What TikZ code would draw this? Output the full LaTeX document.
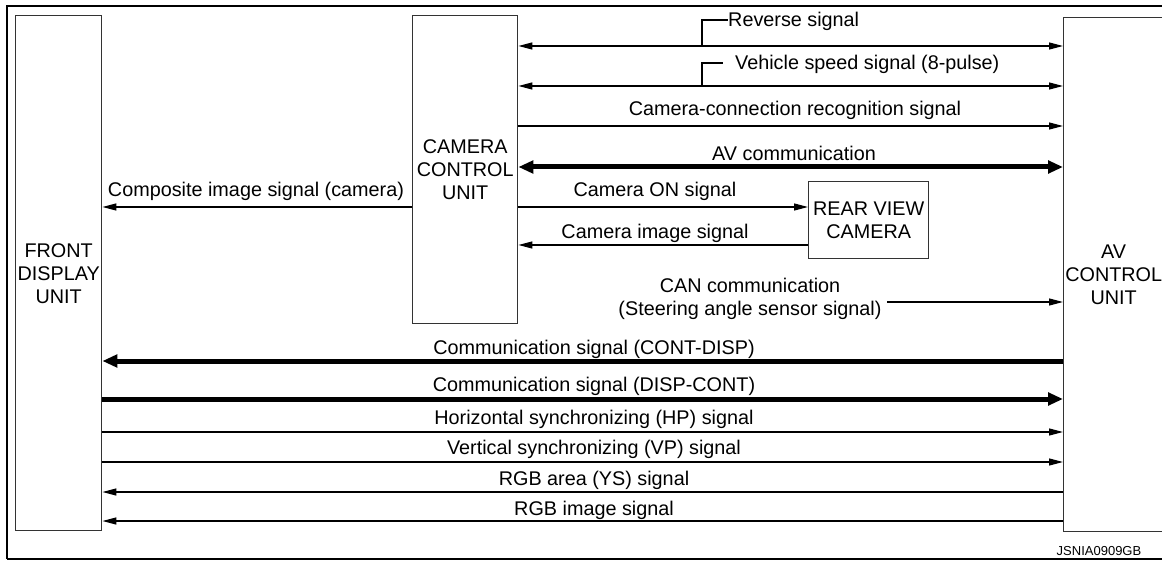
\documentclass[tikz,border=0pt]{standalone}
\usepackage{fontspec}
\setmainfont{Liberation Sans}
\usetikzlibrary{arrows.meta}
\newcommand\sigfont{\fontsize{19.8}{23}\selectfont}
\newcommand\tinyfont{\fontsize{13}{15}\selectfont}
\begin{document}
\begin{tikzpicture}[x=1pt,y=-1pt,
  unitbox/.style={draw=black!80, line width=1.4pt, inner sep=0pt, align=center, font=\sigfont, anchor=north west},
  lbl/.style={inner sep=0pt, font=\sigfont},
  thinl/.style={line width=1.3pt},
  sig/.style={line width=1.3pt, -{Triangle[length=14pt,width=7pt]}},
  sigboth/.style={line width=1.3pt, {Triangle[length=14pt,width=7pt]}-{Triangle[length=14pt,width=7pt]}},
  fat/.style={line width=5pt, -{Triangle[length=15pt,width=12.5pt]}},
  fatboth/.style={line width=5pt, {Triangle[length=15pt,width=12.5pt]}-{Triangle[length=15pt,width=12.5pt]}}
]
\useasboundingbox (0,0) rectangle (1162,561);
\begin{scope}
\clip (0,0) rectangle (1162,561);
% outer frame
\draw[line width=2.4pt] (1170,6) -- (7,6) -- (7,559);
\draw[line width=1.6pt] (7,559) -- (1170,559);

% units
\node[unitbox, minimum width=86pt, minimum height=515pt] (fdu) at (15,15) {FRONT\\DISPLAY\\UNIT};
\node[unitbox, minimum width=105pt, minimum height=308pt] (ccu) at (412,15) {CAMERA\\CONTROL\\UNIT};
\node[unitbox, minimum width=100pt, minimum height=514pt] (av) at (1063,17) {AV\\CONTROL\\UNIT};
\node[unitbox, minimum width=120pt, minimum height=77pt] (rvc) at (808,181) {REAR VIEW\\CAMERA};

% row coordinates
\coordinate (yRev) at (0,46);
\coordinate (ySpd) at (0,86);
\coordinate (yCcr) at (0,126);
\coordinate (yAvc) at (0,167);
\coordinate (yCmp) at (0,207);
\coordinate (yCim) at (0,245);
\coordinate (yCan) at (0,302);
\coordinate (yCd) at (0,361);
\coordinate (yDc) at (0,399);
\coordinate (yHp) at (0,432);
\coordinate (yVp) at (0,462);
\coordinate (yYs) at (0,492);
\coordinate (yRgb) at (0,521);

% reverse signal
\draw[sigboth] (ccu.east |- yRev) -- (av.west |- yRev);
\node[lbl, anchor=base west] (revl) at (728,27) {Reverse signal};
\coordinate (revj) at (702,46);
\draw[thinl] (revj) |- ([yshift=7pt]revl.base west);

% vehicle speed signal
\draw[sigboth] (ccu.east |- ySpd) -- (av.west |- ySpd);
\node[lbl, anchor=base west] (spdl) at (735,70) {Vehicle speed signal (8-pulse)};
\coordinate (spdj) at (702,86);
\draw[thinl] (spdj) |- ([xshift=-12pt,yshift=7pt]spdl.base west);

% camera connection recognition
\draw[sig] (ccu.east |- yCcr) -- (av.west |- yCcr);
\node[lbl, anchor=base] (ccrl) at (795,116) {Camera-connection recognition signal};

% AV communication
\draw[fatboth] (ccu.east |- yAvc) -- (av.west |- yAvc);
\node[lbl, anchor=base] (avcl) at (794,161) {AV communication};

% composite image
\draw[sig] (ccu.west |- yCmp) -- (fdu.east |- yCmp);
\node[lbl, anchor=base] (cmpl) at (256,197) {Composite image signal (camera)};

% camera ON
\draw[sig] (ccu.east |- yCmp) -- (rvc.west |- yCmp);
\node[lbl, anchor=base] (conl) at (655,197) {Camera ON signal};

% camera image
\draw[sig] (rvc.west |- yCim) -- (ccu.east |- yCim);
\node[lbl, anchor=base] (ciml) at (655,239) {Camera image signal};

% CAN communication
\node[lbl, align=center] (canl) at (750,299) {CAN communication\\(Steering angle sensor signal)};
\coordinate (canS) at (887,302);
\draw[sig] (canS) -- (av.west |- yCan);

% communication signals
\draw[fat] (av.west |- yCd) -- (fdu.east |- yCd);
\node[lbl, anchor=base] (cdl) at (594,354) {Communication signal (CONT-DISP)};
\draw[fat] (fdu.east |- yDc) -- (av.west |- yDc);
\node[lbl, anchor=base] (dcl) at (594,391) {Communication signal (DISP-CONT)};

% sync and RGB
\draw[sig] (fdu.east |- yHp) -- (av.west |- yHp);
\node[lbl, anchor=base] (hpl) at (594,424) {Horizontal synchronizing (HP) signal};
\draw[sig] (fdu.east |- yVp) -- (av.west |- yVp);
\node[lbl, anchor=base] (vpl) at (594,454) {Vertical synchronizing (VP) signal};
\draw[sig] (av.west |- yYs) -- (fdu.east |- yYs);
\node[lbl, anchor=base] (ysl) at (594,485) {RGB area (YS) signal};
\draw[sig] (av.west |- yRgb) -- (fdu.east |- yRgb);
\node[lbl, anchor=base] (rgbl) at (594,515) {RGB image signal};

% figure id
\node[inner sep=0pt, font=\tinyfont, anchor=base] (fid) at (1099,555) {JSNIA0909GB};
\end{scope}
\end{tikzpicture}
\end{document}
